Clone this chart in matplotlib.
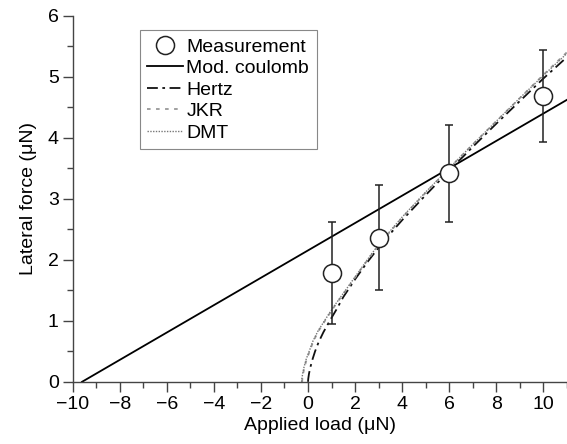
import matplotlib
matplotlib.use("Agg")
import matplotlib.pyplot as plt
from matplotlib.ticker import MultipleLocator

plt.rcParams['font.family'] = ['Liberation Sans', 'DejaVu Sans']
plt.rcParams['font.size'] = 14

# Measurements
meas_load = [1, 3, 6, 10]
meas_force = [1.78, 2.36, 3.42, 4.68]
err_low = [0.95, 1.50, 2.62, 3.93]
err_high = [2.62, 3.23, 4.20, 5.43]

# Modified Coulomb (straight line)
coul_load = [-9.6, 11]
coul_force = [0.0, 4.62]

# Hertz
hertz_load = [0, 0.01, 0.04, 0.1, 0.2, 0.3, 0.45, 0.65, 0.85, 1.0, 1.2, 1.5, 2.0, 2.5, 3, 3.5, 4, 5, 6, 7, 8, 9, 10, 11]
hertz_force = [0, 0.05, 0.13, 0.24, 0.38, 0.5, 0.65, 0.81, 0.95, 1.05, 1.18, 1.39, 1.68, 1.95, 2.2, 2.43, 2.65, 3.06, 3.46, 3.85, 4.23, 4.6, 4.97, 5.32]

# JKR
jkr_load = [-0.25, -0.24, -0.21, -0.15, -0.05, 0.07, 0.22, 0.44, 0.67, 0.92, 1.2, 1.5, 2, 2.5, 3, 4, 5, 6, 7, 8, 9, 10, 11]
jkr_force = [0, 0.05, 0.13, 0.24, 0.38, 0.5, 0.66, 0.83, 0.97, 1.12, 1.28, 1.44, 1.71, 1.98, 2.24, 2.69, 3.1, 3.5, 3.89, 4.27, 4.65, 5.03, 5.4]

# DMT
dmt_load = [-0.27, -0.26, -0.23, -0.17, -0.07, 0.05, 0.2, 0.42, 0.65, 0.9, 1.2, 1.5, 2, 2.5, 3, 4, 5, 6, 7, 8, 9, 10, 11]
dmt_force = [0, 0.05, 0.13, 0.24, 0.38, 0.5, 0.66, 0.83, 0.97, 1.12, 1.29, 1.45, 1.72, 1.99, 2.25, 2.7, 3.11, 3.5, 3.89, 4.27, 4.65, 5.02, 5.38]

fig = plt.figure(figsize=(5.67, 4.44), dpi=100)
ax = fig.add_axes([0.128, 0.140, 0.872, 0.825])

axcol = '#444444'
ax.plot(coul_load, coul_force, color='black', lw=1.3, label='Mod. coulomb', zorder=2)
ax.plot(hertz_load, hertz_force, color='#111111', lw=1.3, linestyle=(0, (6, 2.5, 1.5, 2.5)), label='Hertz', zorder=2)
ax.plot(jkr_load, jkr_force, color='#999999', lw=1.3, linestyle=(0, (2, 3)), label='JKR', zorder=2)
ax.plot(dmt_load, dmt_force, color='#777777', lw=1.0, linestyle=(0, (1, 1)), label='DMT', zorder=2)

yerr = [[m - l for m, l in zip(meas_force, err_low)], [h - m for m, h in zip(meas_force, err_high)]]
ax.errorbar(meas_load, meas_force, yerr=yerr, fmt='none', ecolor='#222222', elinewidth=1.1, capsize=3, capthick=1.1, zorder=3)
ax.plot(meas_load, meas_force, 'o', ms=13, mfc='white', mec='#222222', mew=1.1, linestyle='none', label='Measurement', zorder=4)

ax.set_xlim(-10, 11)
ax.set_ylim(0, 6)
ax.xaxis.set_major_locator(MultipleLocator(2))
ax.xaxis.set_minor_locator(MultipleLocator(1))
ax.yaxis.set_major_locator(MultipleLocator(1))
ax.yaxis.set_minor_locator(MultipleLocator(0.5))
ax.tick_params(which='major', direction='out', length=7, width=1, color=axcol, labelsize=14, pad=3)
ax.tick_params(which='minor', direction='out', length=4, width=1, color=axcol)
for s in ['top', 'right']:
    ax.spines[s].set_visible(False)
for s in ['left', 'bottom']:
    ax.spines[s].set_color(axcol)
    ax.spines[s].set_linewidth(1)

ax.set_xlabel('Applied load (μN)', fontsize=14, labelpad=3)
ax.set_ylabel('Lateral force (μN)', fontsize=14, labelpad=8)

handles, labels = ax.get_legend_handles_labels()
order = ['Measurement', 'Mod. coulomb', 'Hertz', 'JKR', 'DMT']
hl = dict(zip(labels, handles))
leg = ax.legend([hl[k] for k in order], order, loc='upper left', bbox_to_anchor=(0.1354, 0.960),
                frameon=True, fancybox=False, edgecolor='#888888', framealpha=1,
                handlelength=1.85, handletextpad=0.15, borderpad=0.4, labelspacing=0.2,
                borderaxespad=0, fontsize=14)
leg.get_frame().set_linewidth(0.8)

fig.savefig('out.png', dpi=100)
